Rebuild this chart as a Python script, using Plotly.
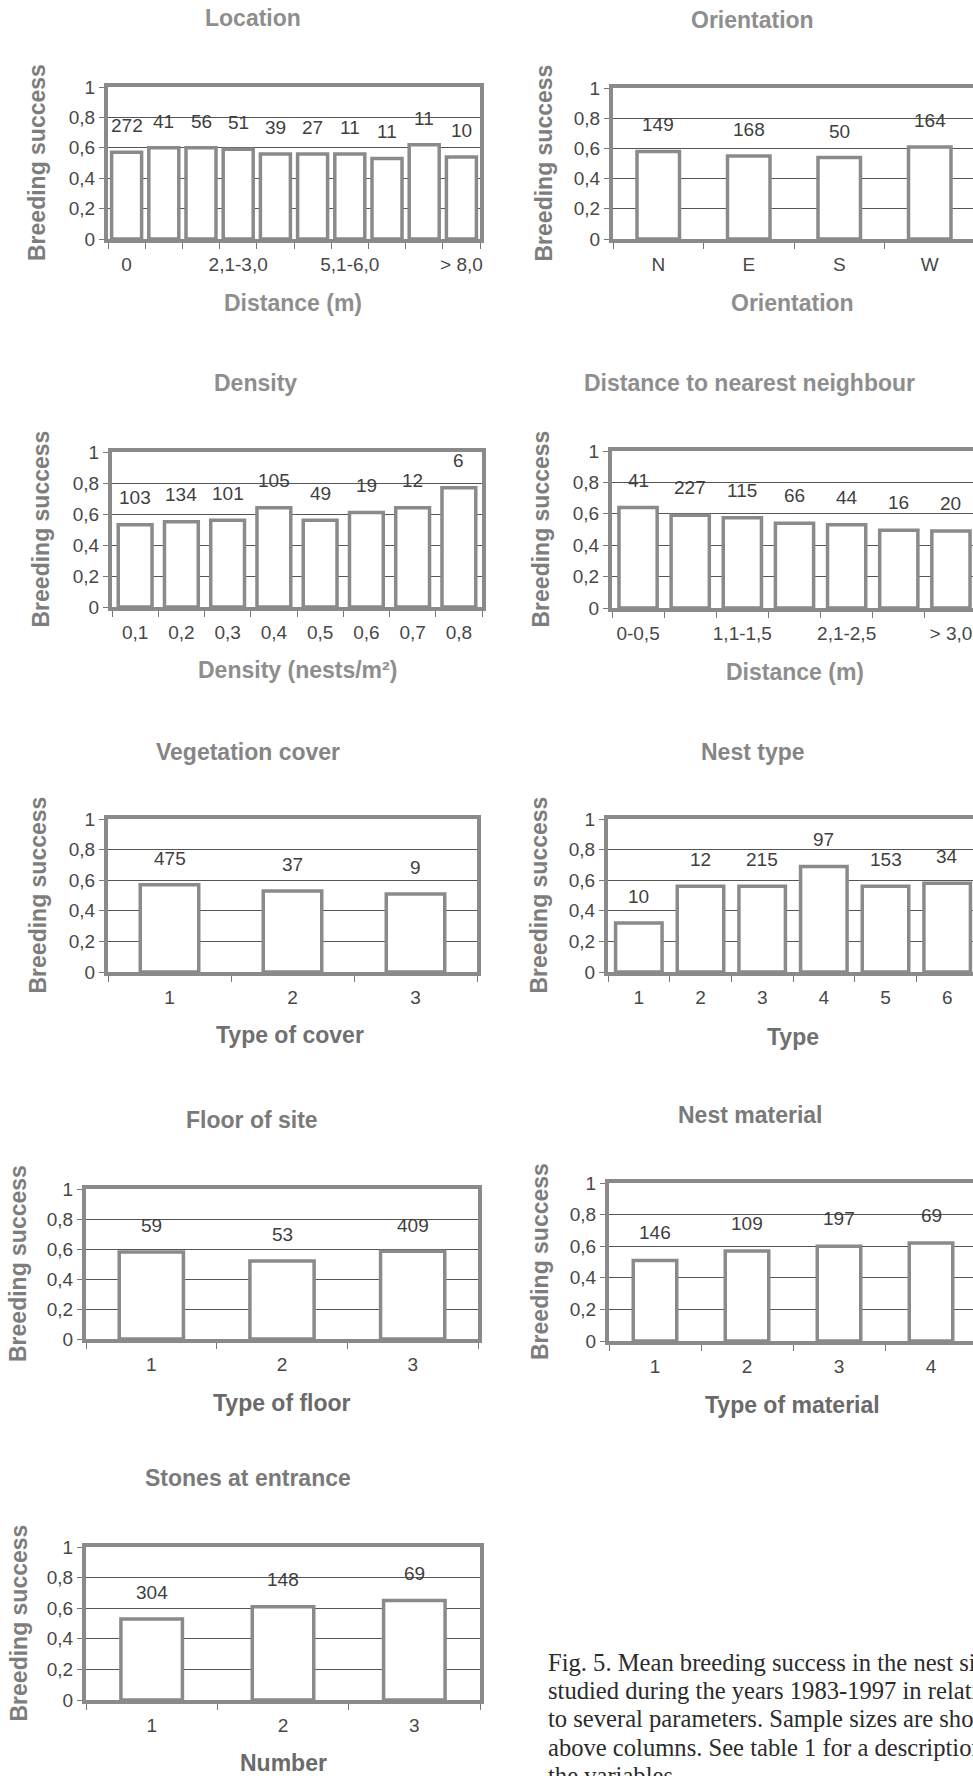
import plotly.graph_objects as go

W, H = 973, 1776

# ---------------- data ----------------
loc_cats = ["0", "0,1-1,0", "1,1-2,0", "2,1-3,0", "3,1-4,0", "4,1-5,0",
            "5,1-6,0", "6,1-7,0", "7,1-8,0", "> 8,0"]
loc_vals = [0.57, 0.60, 0.60, 0.59, 0.56, 0.56, 0.56, 0.53, 0.62, 0.54]
loc_n = [272, 41, 56, 51, 39, 27, 11, 11, 11, 10]
loc_ticks = ["0", "2,1-3,0", "5,1-6,0", "> 8,0"]

ori_cats = ["N", "E", "S", "W"]
ori_vals = [0.58, 0.55, 0.54, 0.61]
ori_n = [149, 168, 50, 164]

den_cats = ["0,1", "0,2", "0,3", "0,4", "0,5", "0,6", "0,7", "0,8"]
den_vals = [0.53, 0.55, 0.56, 0.64, 0.56, 0.61, 0.64, 0.77]
den_n = [103, 134, 101, 105, 49, 19, 12, 6]

nn_cats = ["0-0,5", "0,6-1,0", "1,1-1,5", "1,6-2,0", "2,1-2,5", "2,6-3,0", "> 3,0"]
nn_vals = [0.64, 0.59, 0.575, 0.54, 0.53, 0.495, 0.49]
nn_n = [41, 227, 115, 66, 44, 16, 20]
nn_ticks = ["0-0,5", "1,1-1,5", "2,1-2,5", "> 3,0"]

veg_cats = ["1", "2", "3"]
veg_vals = [0.57, 0.53, 0.51]
veg_n = [475, 37, 9]

type_cats = ["1", "2", "3", "4", "5", "6"]
type_vals = [0.32, 0.56, 0.56, 0.69, 0.56, 0.58]
type_n = [10, 12, 215, 97, 153, 34]

floor_cats = ["1", "2", "3"]
floor_vals = [0.58, 0.52, 0.585]
floor_n = [59, 53, 409]

mat_cats = ["1", "2", "3", "4"]
mat_vals = [0.51, 0.57, 0.60, 0.62]
mat_n = [146, 109, 197, 69]

stone_cats = ["1", "2", "3"]
stone_vals = [0.53, 0.61, 0.65]
stone_n = [304, 148, 69]

y_tickvals = [0, 0.2, 0.4, 0.6, 0.8, 1]
y_ticktext = ["0", "0,2", "0,4", "0,6", "0,8", "1"]

caption_lines = [
    "Fig. 5. Mean breeding success in the nest sites",
    "studied during the years 1983-1997 in relation",
    "to several parameters. Sample sizes are shown",
    "above columns. See table 1 for a description of",
    "the variables.",
]

# ---------------- layout config ----------------
SANS = "Liberation Sans, Arial, sans-serif"
SERIF = "Liberation Serif, Times New Roman, serif"
FRAME = "#8a8a8a"
GRID = "#555555"
TICKC = "#474747"

panels = [
    dict(cats=loc_cats, vals=loc_vals, n=loc_n, ticks=loc_ticks, title="Location",
         xtitle="Distance (m)", frame=(108, 87, 480, 239), right=None,
         tpos=(253, 18), xtpos=(293, 303), ytx=37, outer=33.5,
         tcol="#8e8e8e", xcol="#8e8e8e"),
    dict(cats=ori_cats, vals=ori_vals, n=ori_n, ticks=None, title="Orientation",
         xtitle="Orientation", frame=(613, 88, 975, 239), right=True,
         tpos=(752, 20), xtpos=(792, 303), ytx=543, outer=46,
         tcol="#8e8e8e", xcol="#8e8e8e"),
    dict(cats=den_cats, vals=den_vals, n=den_n, ticks=None, title="Density",
         xtitle="Density (nests/m²)", frame=(112, 452, 482, 607), right=None,
         tpos=(255, 383), xtpos=(297, 670), ytx=40, outer=37.3,
         tcol="#8e8e8e", xcol="#8e8e8e"),
    dict(cats=nn_cats, vals=nn_vals, n=nn_n, ticks=nn_ticks, title="Distance to nearest neighbour",
         xtitle="Distance (m)", frame=(612, 451, 977, 608), right=True,
         tpos=(749, 383), xtpos=(795, 672), ytx=540, outer=41.7,
         tcol="#8e8e8e", xcol="#8e8e8e"),
    dict(cats=veg_cats, vals=veg_vals, n=veg_n, ticks=None, title="Vegetation cover",
         xtitle="Type of cover", frame=(108, 819, 477, 972), right=None,
         tpos=(248, 752), xtpos=(290, 1035), ytx=37, outer=62,
         tcol="#858585", xcol="#707070"),
    dict(cats=type_cats, vals=type_vals, n=type_n, ticks=None, title="Nest type",
         xtitle="Type", frame=(608, 819, 978, 972), right=True,
         tpos=(753, 752), xtpos=(793, 1037), ytx=538, outer=50,
         tcol="#858585", xcol="#707070"),
    dict(cats=floor_cats, vals=floor_vals, n=floor_n, ticks=None, title="Floor of site",
         xtitle="Type of floor", frame=(86, 1189, 478, 1339), right=None,
         tpos=(252, 1120), xtpos=(282, 1403), ytx=18, outer=67.7,
         tcol="#7a7a7a", xcol="#6a6a6a"),
    dict(cats=mat_cats, vals=mat_vals, n=mat_n, ticks=None, title="Nest material",
         xtitle="Type of material", frame=(609, 1183, 977, 1341), right=True,
         tpos=(750, 1115), xtpos=(792, 1405), ytx=540, outer=47,
         tcol="#7a7a7a", xcol="#6a6a6a"),
    dict(cats=stone_cats, vals=stone_vals, n=stone_n, ticks=None, title="Stones at entrance",
         xtitle="Number", frame=(86, 1547, 480, 1700), right=None,
         tpos=(248, 1478), xtpos=(283, 1763), ytx=18, outer=65,
         tcol="#7a7a7a", xcol="#6a6a6a"),
]

LW_BAR = 3.5
fig = go.Figure()
layout = dict(width=W, height=H, margin=dict(l=0, r=0, t=0, b=0, pad=0, autoexpand=False),
              autosize=False,
              paper_bgcolor="white", plot_bgcolor="white", showlegend=False,
              barmode="group")
annotations = []

for k, p in enumerate(panels, start=1):
    l, t, r, b = p["frame"]
    n = len(p["cats"])
    spacing = (r - l) / n
    xs = list(range(n))
    width = (p["outer"] - LW_BAR) / spacing
    xname = "x" if k == 1 else f"x{k}"
    yname = "y" if k == 1 else f"y{k}"
    fig.add_trace(go.Bar(
        x=xs, y=p["vals"], width=width, xaxis=xname, yaxis=yname,
        marker=dict(color="white", line=dict(color=FRAME, width=LW_BAR)),
        hoverinfo="skip"))

    if p["right"]:
        vis_r = min(r, W)
        x_hi = -0.5 + n * (vis_r - l) / (r - l)
        dom_r = vis_r / W
    else:
        x_hi = n - 0.5
        dom_r = r / W

    shown = p["ticks"] if p["ticks"] else p["cats"]
    tickvals = [p["cats"].index(s) for s in shown]

    axkey = "xaxis" if k == 1 else f"xaxis{k}"
    aykey = "yaxis" if k == 1 else f"yaxis{k}"
    layout[axkey] = dict(
        domain=[l / W, dom_r], anchor=yname, range=[-0.5, x_hi], automargin=False,
        tickmode="array", tickvals=tickvals, ticktext=shown, ticks="",
        ticklabelstandoff=5,
        tickfont=dict(family=SANS, size=19, color=TICKC),
        showline=True, linecolor=FRAME, linewidth=4, mirror=True,
        showgrid=False, zeroline=False, fixedrange=True,
        minor=dict(tickvals=[i - 0.5 for i in range(n + 1)], ticks="outside",
                   ticklen=6, tickwidth=1, tickcolor="#777777", showgrid=False),
    )
    layout[aykey] = dict(
        domain=[1 - b / H, 1 - t / H], anchor=xname, range=[0, 1], automargin=False,
        tickmode="array", tickvals=y_tickvals, ticktext=y_ticktext,
        ticks="outside", ticklen=5, tickwidth=1, tickcolor="#777777",
        ticklabelstandoff=0,
        tickfont=dict(family=SANS, size=19, color=TICKC),
        showgrid=True, gridcolor=GRID, gridwidth=1,
        showline=True, linecolor=FRAME, linewidth=4, mirror=(not p["right"]),
        zeroline=False, fixedrange=True,
    )

    ph = b - t
    for i, (v, cnt) in enumerate(zip(p["vals"], p["n"])):
        annotations.append(dict(
            x=i, y=v, xref=xname, yref=yname, text=str(cnt), showarrow=False,
            yshift=0.175 * ph, xanchor="center", yanchor="middle",
            font=dict(family=SANS, size=19, color="#3f3f3f")))

    annotations.append(dict(
        x=p["tpos"][0] / W, y=1 - p["tpos"][1] / H, xref="paper", yref="paper",
        text=f"<b>{p['title']}</b>", showarrow=False, xanchor="center", yanchor="middle",
        font=dict(family=SANS, size=23, color=p["tcol"])))
    annotations.append(dict(
        x=p["xtpos"][0] / W, y=1 - p["xtpos"][1] / H, xref="paper", yref="paper",
        text=f"<b>{p['xtitle']}</b>", showarrow=False, xanchor="center", yanchor="middle",
        font=dict(family=SANS, size=23, color=p["xcol"])))
    annotations.append(dict(
        x=p["ytx"] / W, y=1 - ((t + b) / 2) / H, xref="paper", yref="paper",
        text="<b>Breeding success</b>", showarrow=False, textangle=-90,
        xanchor="center", yanchor="middle",
        font=dict(family=SANS, size=23, color="#7d7d7d")))

cap_y = [1662, 1690, 1718, 1747, 1775]
for line, cy in zip(caption_lines, cap_y):
    annotations.append(dict(
        x=546 / W, y=1 - cy / H, xref="paper", yref="paper", text=line,
        showarrow=False, xanchor="left", yanchor="middle",
        font=dict(family=SERIF, size=24.6, color="#2b2b2b")))

layout["annotations"] = annotations
fig.update_layout(**layout)
fig.write_html(
    "out.html",
    config={"displayModeBar": False},
    post_script=("document.documentElement.style.margin='0';"
                 "document.body.style.margin='0';"
                 "document.body.style.padding='0';"
                 "document.body.style.overflow='hidden';"),
)
